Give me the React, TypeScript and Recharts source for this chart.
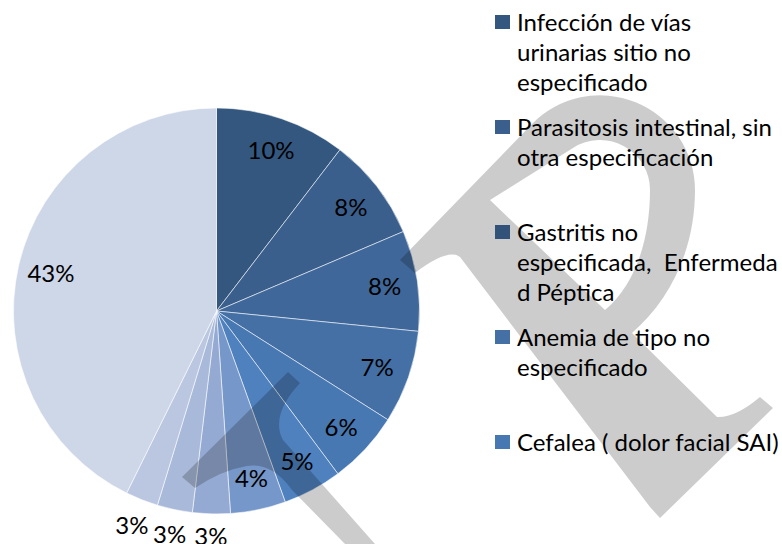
import React from "react";
import { PieChart, Pie, Cell, Legend } from "recharts";

// categories in slice order (clockwise from 12 o'clock); line breaks as in the legend
const categories = [
  "Infección de vías\nurinarias sitio no\nespecificado",
  "Parasitosis intestinal, sin\notra especificación",
  "Gastritis no\nespecificada,  Enfermeda\nd Péptica",
  "Anemia de tipo no\nespecificado",
  "Cefalea ( dolor facial SAI)",
  "Diagnóstico 6",
  "Diagnóstico 7",
  "Diagnóstico 8",
  "Diagnóstico 9",
  "Diagnóstico 10",
  "Otros",
];
const shares = [10.4, 8.2, 8.0, 7.4, 5.8, 4.7, 4.4, 3.0, 2.8, 2.6, 42.7];
const sliceColors = [
  "#34577F", "#3B5F8D", "#3F6799", "#4470A6", "#4878B2", "#4E81BE",
  "#7697C9", "#95AAD2", "#A9B9DA", "#BBC7E1", "#CDD7E8",
];
const legendShown = 5;

const data = categories.map((name, i) => ({ name, value: shares[i] }));

const FONT = "Lato, 'Open Sans', sans-serif";
const R = 203;
const RADIAN = Math.PI / 180;

// decorative watermark over the chart
const watermark = [
  "M400 260 L532 124 A95 95 0 0 1 695 190 C695 250 670 300 632 333 L717 417 Q735 418 760 397 L773 408 L660 518 L650 507 L460 257 Q448 248 415 273 Z M490 200 L573 148 A50 50 0 0 1 650 190 C650 240 635 285 605 310 Z",
  "M182 477 L288 372 L300 383 C286 398 272 420 283 440 L375 544 L345 544 L292 490 Q272 462 247 466 Q222 470 195 488 Z",
];

const renderLabel = (props: any) => {
  const { cx, cy, midAngle, percent } = props;
  const theta = (90 - midAngle) * RADIAN;
  const outside = percent < 0.035;
  const r = outside ? R + 21 + 16 * Math.abs(Math.sin(theta)) : 170;
  const x = cx + r * Math.sin(theta);
  const y = cy - r * Math.cos(theta);
  return (
    <text x={x} y={y} textAnchor="middle" dominantBaseline="central" fill="#000" fontFamily={FONT} fontSize={24}>
      {Math.round(percent * 100)}%
    </text>
  );
};

const LegendBox = ({ payload }: any) => {
  const items = [...(payload || [])]
    .sort((a: any, b: any) => categories.indexOf(a.value) - categories.indexOf(b.value))
    .slice(0, legendShown);
  return (
    <div style={{ fontFamily: FONT, fontSize: 24, color: "#000" }}>
      {items.map((item: any) => {
        const idx = categories.indexOf(item.value);
        return (
          <div key={item.value} style={{ position: "relative", height: 105 }}>
            <div style={{ position: "absolute", left: 0, top: 8, width: 15, height: 14, background: sliceColors[idx] }} />
            <div style={{ position: "absolute", left: 22, top: 0, lineHeight: "30px", whiteSpace: "pre" }}>
              {item.value}
            </div>
          </div>
        );
      })}
    </div>
  );
};

export default function App() {
  return (
    <div style={{ position: "absolute", left: 0, top: 0, width: 782, height: 544, overflow: "hidden", background: "#fff" }}>
      <PieChart width={782} height={544} margin={{ top: 0, right: 0, bottom: 0, left: 0 }}>
        <Pie
          data={data}
          dataKey="value"
          nameKey="name"
          cx={216.5}
          cy={311}
          outerRadius={R}
          startAngle={90}
          endAngle={-270}
          stroke="rgba(255,255,255,0.55)"
          strokeWidth={1}
          label={renderLabel}
          labelLine={false}
          isAnimationActive={false}
        >
          {data.map((d, i) => (
            <Cell key={d.name} fill={sliceColors[i]} />
          ))}
        </Pie>
        <Legend
          layout="vertical"
          align="right"
          verticalAlign="top"
          content={<LegendBox />}
          wrapperStyle={{ position: "absolute", left: 495, top: 7, width: 287 }}
        />
      </PieChart>
      <svg width={782} height={544} style={{ position: "absolute", left: 0, top: 0, pointerEvents: "none" }}>
        {watermark.map((d, i) => (
          <path key={i} d={d} fill="#000" fillOpacity={0.2} fillRule="evenodd" />
        ))}
      </svg>
    </div>
  );
}
